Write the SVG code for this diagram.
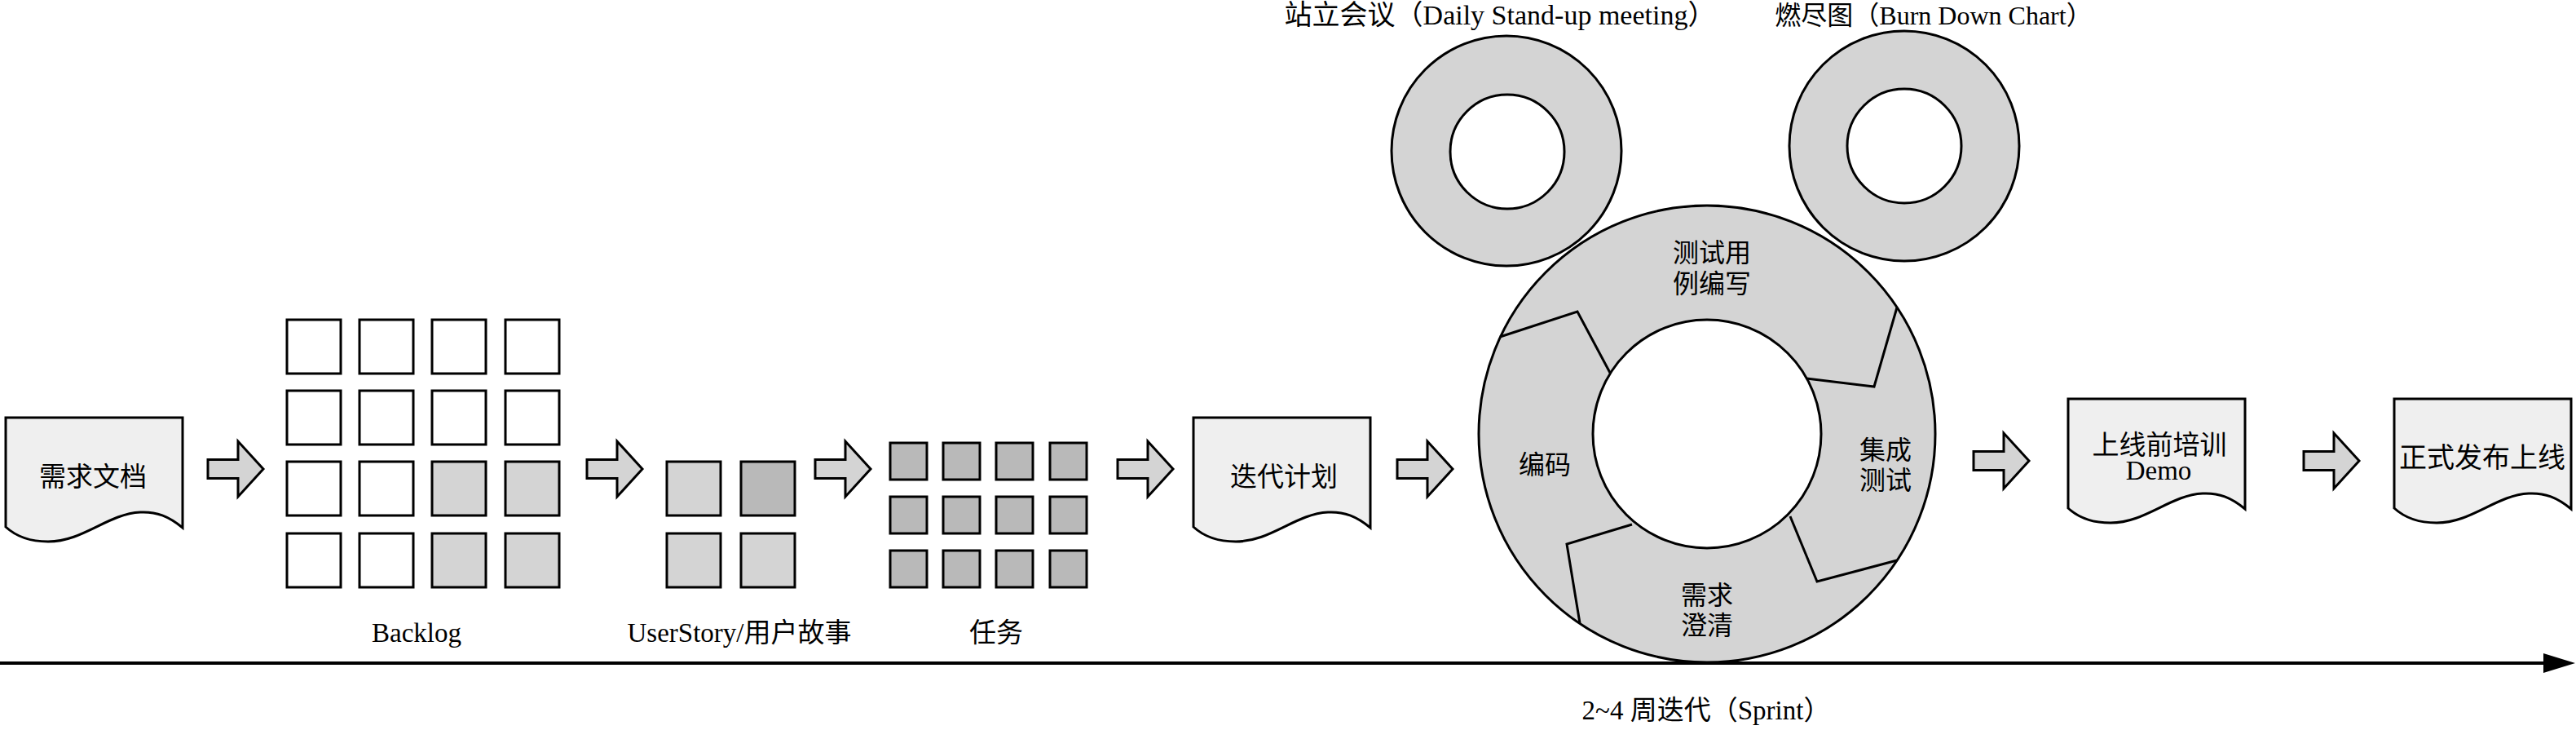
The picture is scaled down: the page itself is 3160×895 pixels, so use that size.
<svg xmlns="http://www.w3.org/2000/svg" width="3160" height="895" viewBox="0 0 3160 895">
<style>
.doc{fill:#efefef;stroke:#000;stroke-width:3;stroke-linejoin:miter}
.box{stroke:#000;stroke-width:3}
.w{fill:#fff}.l{fill:#d4d4d4}.d{fill:#b9b9b9}
.arrow{fill:#d4d4d4;stroke:#000;stroke-width:3}
.ring{fill:#d4d4d4;stroke:#000;stroke-width:3;fill-rule:evenodd}
.div{fill:none;stroke:#000;stroke-width:3;stroke-linejoin:miter}
.t{font-family:"Liberation Serif","Noto Sans CJK SC",serif;font-size:33px;text-anchor:middle;fill:#000}
.s{font-size:32px}
.h{font-size:34px}
</style>
<defs>
<path id="blk" d="M0,-11.5 H37 V-34 L68,0 L37,34 V11.5 H0 Z"/>
<path id="docp" d="M0,0 H217 V135 C200,121 185,115 165,116 C125,118 95,152 52,152 C30,152 12,145 0,134 Z"/>
</defs>

<g id="connectors">
<use href="#blk" class="arrow" transform="translate(255,575)"/>
<use href="#blk" class="arrow" transform="translate(720,575)"/>
<use href="#blk" class="arrow" transform="translate(1000,575)"/>
<use href="#blk" class="arrow" transform="translate(1371,575)"/>
<use href="#blk" class="arrow" transform="translate(1714,575)"/>
<use href="#blk" class="arrow" transform="translate(2421,565)"/>
<use href="#blk" class="arrow" transform="translate(2826,565)"/>
<line x1="0" y1="813" x2="3124" y2="813" stroke="#000" stroke-width="4"/>
<polygon points="3120,801 3159,813 3120,825" fill="#000"/>
<text class="t" x="2093" y="882">2~4 周迭代（Sprint）</text>
</g>

<g id="doc-requirements">
<use href="#docp" class="doc" transform="translate(7,512)"/>
<text class="t" x="114" y="596">需求文档</text>
</g>

<g id="backlog">
<rect class="box w" x="352" y="392" width="66" height="66"/>
<rect class="box w" x="441" y="392" width="66" height="66"/>
<rect class="box w" x="530" y="392" width="66" height="66"/>
<rect class="box w" x="620" y="392" width="66" height="66"/>
<rect class="box w" x="352" y="479" width="66" height="66"/>
<rect class="box w" x="441" y="479" width="66" height="66"/>
<rect class="box w" x="530" y="479" width="66" height="66"/>
<rect class="box w" x="620" y="479" width="66" height="66"/>
<rect class="box w" x="352" y="566" width="66" height="66"/>
<rect class="box w" x="441" y="566" width="66" height="66"/>
<rect class="box l" x="530" y="566" width="66" height="66"/>
<rect class="box l" x="620" y="566" width="66" height="66"/>
<rect class="box w" x="352" y="654" width="66" height="66"/>
<rect class="box w" x="441" y="654" width="66" height="66"/>
<rect class="box l" x="530" y="654" width="66" height="66"/>
<rect class="box l" x="620" y="654" width="66" height="66"/>
<text class="t" x="511" y="787">Backlog</text>
</g>

<g id="userstory">
<rect class="box l" x="818" y="566" width="66" height="66"/>
<rect class="box d" x="909" y="566" width="66" height="66"/>
<rect class="box l" x="818" y="654" width="66" height="66"/>
<rect class="box l" x="909" y="654" width="66" height="66"/>
<text class="t" x="907" y="787">UserStory/用户故事</text>
</g>

<g id="tasks">
<rect class="box d" x="1092" y="543" width="45" height="45"/>
<rect class="box d" x="1157" y="543" width="45" height="45"/>
<rect class="box d" x="1222" y="543" width="45" height="45"/>
<rect class="box d" x="1288" y="543" width="45" height="45"/>
<rect class="box d" x="1092" y="609" width="45" height="45"/>
<rect class="box d" x="1157" y="609" width="45" height="45"/>
<rect class="box d" x="1222" y="609" width="45" height="45"/>
<rect class="box d" x="1288" y="609" width="45" height="45"/>
<rect class="box d" x="1092" y="675" width="45" height="45"/>
<rect class="box d" x="1157" y="675" width="45" height="45"/>
<rect class="box d" x="1222" y="675" width="45" height="45"/>
<rect class="box d" x="1288" y="675" width="45" height="45"/>
<text class="t" x="1222" y="787">任务</text>
</g>

<g id="doc-plan">
<use href="#docp" class="doc" transform="translate(1464,512)"/>
<text class="t" x="1575" y="596">迭代计划</text>
</g>

<g id="ear-standup">
<circle cx="1848" cy="185" r="141" class="ring"/>
<circle cx="1849" cy="186" r="70" fill="#fff" stroke="#000" stroke-width="3"/>
<text class="t h" x="1840" y="30">站立会议（Daily Stand-up meeting）</text>
</g>

<g id="ear-burndown">
<circle cx="2336" cy="179" r="141" class="ring"/>
<circle cx="2336" cy="179" r="70" fill="#fff" stroke="#000" stroke-width="3"/>
<text class="t s" x="2372" y="30">燃尽图（Burn Down Chart）</text>
</g>

<g id="sprint-cycle">
<path class="ring" d="M2374,532 A280,280 0 1,1 1814,532 A280,280 0 1,1 2374,532 Z M2234,532 A140,140 0 1,0 1954,532 A140,140 0 1,0 2234,532 Z"/>
<polyline class="div" points="1840,413 1935,382 1975,457"/>
<polyline class="div" points="2327,377 2299,474 2216,464"/>
<polyline class="div" points="2002,643 1922,667 1938,764"/>
<polyline class="div" points="2196,633 2229,713 2327,687"/>
<text class="t s" x="2100" y="321">测试用</text>
<text class="t s" x="2100" y="359">例编写</text>
<text class="t s" x="1895" y="581">编码</text>
<text class="t s" x="2094" y="741">需求</text>
<text class="t s" x="2094" y="778">澄清</text>
<text class="t s" x="2313" y="563">集成</text>
<text class="t s" x="2313" y="600">测试</text>
</g>

<g id="doc-training">
<use href="#docp" class="doc" transform="translate(2537,489)"/>
<text class="t" x="2649" y="557">上线前培训</text>
<text class="t" x="2648" y="588">Demo</text>
</g>

<g id="doc-release">
<use href="#docp" class="doc" transform="translate(2937,489)"/>
<text class="t h" x="3045" y="573">正式发布上线</text>
</g>
</svg>
